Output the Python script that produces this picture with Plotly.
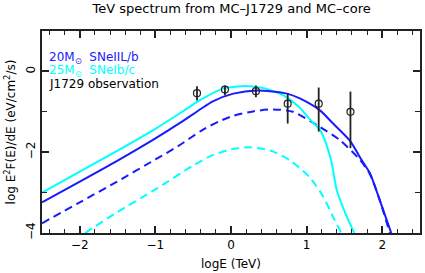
import plotly.graph_objects as go

# 20 Msun SNeIIL/b (solid) and its dashed companion
blue_solid_x = [-2.5, -2.0, -1.5, -1.0, -0.67, -0.4, -0.24, 0.03, 0.34, 0.74, 0.91, 1.18, 1.35, 1.57, 1.73, 1.84, 1.97, 2.12]
blue_solid_y = [-3.24, -2.73, -2.21, -1.66, -1.27, -0.93, -0.74, -0.55, -0.47, -0.55, -0.67, -0.97, -1.29, -1.71, -2.2, -2.53, -3.2, -4.0]
blue_dash_x = [-2.5, -2.0, -1.5, -1.0, -0.7, -0.37, -0.15, 0.03, 0.29, 0.56, 0.82, 1.18, 1.44, 1.71, 1.84, 1.97, 2.1]
blue_dash_y = [-3.76, -3.24, -2.72, -2.18, -1.85, -1.44, -1.23, -1.1, -0.99, -0.94, -1.0, -1.38, -1.7, -2.2, -2.55, -3.2, -4.0]

# 25 Msun SNeIb/c (solid) and dashed companion
cyan_solid_x = [-2.5, -2.0, -1.5, -1.0, -0.67, -0.4, -0.1, 0.2, 0.45, 0.7, 0.9, 1.05, 1.18, 1.26, 1.33, 1.40, 1.51, 1.63]
cyan_solid_y = [-3.0, -2.48, -1.96, -1.42, -1.03, -0.7, -0.42, -0.36, -0.42, -0.6, -0.88, -1.2, -1.46, -1.8, -2.25, -2.95, -3.5, -4.0]
cyan_dash_x = [-1.93, -1.5, -1.0, -0.5, -0.25, 0.0, 0.25, 0.52, 0.78, 1.04, 1.22, 1.35, 1.46]
cyan_dash_y = [-4.0, -3.48, -2.92, -2.33, -2.08, -1.93, -1.88, -1.96, -2.2, -2.62, -3.1, -3.6, -4.0]

# J1729 observation
obs_x = [-0.45, -0.08, 0.33, 0.75, 1.16, 1.58]
obs_y = [-0.54, -0.45, -0.49, -0.80, -0.80, -1.00]
obs_hi = [-0.37, -0.35, -0.35, -0.54, -0.40, -0.50]
obs_lo = [-0.72, -0.59, -0.64, -1.29, -1.49, -1.90]

x_tickvals = [-2, -1, 0, 1, 2]
x_ticktext = ["\u22122", "\u22121", "0", "1", "2"]
y_tickvals = [-4, -2, 0]
y_ticktext = ["\u22124", "\u22122", "0"]

BLUE = "#1a1aff"
CYAN = "#00ffff"
FONT = "DejaVu Sans"
AX = "#222222"

fig = go.Figure()
# cyan dashed curve drawn on the mirrored (top/right) axes, which share the same ranges
fig.add_trace(go.Scatter(x=cyan_dash_x, y=cyan_dash_y, mode="lines", xaxis="x2", yaxis="y2",
                         line=dict(color=CYAN, width=2, dash="8px,5px", shape="spline", smoothing=0.7)))
fig.add_trace(go.Scatter(x=blue_dash_x, y=blue_dash_y, mode="lines", line=dict(color=BLUE, width=2, dash="8px,5px", shape="spline", smoothing=0.7)))
fig.add_trace(go.Scatter(x=cyan_solid_x, y=cyan_solid_y, mode="lines", line=dict(color=CYAN, width=2, shape="spline", smoothing=0.6)))
fig.add_trace(go.Scatter(x=blue_solid_x, y=blue_solid_y, mode="lines", line=dict(color=BLUE, width=2, shape="spline", smoothing=0.7)))
fig.add_trace(go.Scatter(
    x=obs_x, y=obs_y, mode="markers",
    marker=dict(symbol="circle-open", size=7, color="#222222", line=dict(width=1.2, color="#222222")),
    error_y=dict(type="data", symmetric=False,
                 array=[h - v for h, v in zip(obs_hi, obs_y)],
                 arrayminus=[v - l for v, l in zip(obs_y, obs_lo)],
                 color="#222222", thickness=1.8, width=0),
))

legend_items = [
    ("20M<sub>\u2299</sub>  SNeIIL/b", BLUE, 0.32),
    ("25M<sub>\u2299</sub>  SNeIb/c", CYAN, 0.0),
    ("J1729 observation", "black", -0.32),
]
for txt, col, yy in legend_items:
    fig.add_annotation(x=-2.43, y=yy, xref="x", yref="y", text=txt, showarrow=False,
                       xanchor="left", yanchor="middle", font=dict(family=FONT, size=12, color=col))

fig.update_layout(
    template="none",
    width=425, height=273,
    margin=dict(l=42, r=5, t=31, b=40, autoexpand=False),
    paper_bgcolor="white", plot_bgcolor="white",
    showlegend=False,
    title=dict(text="TeV spectrum from MC\u2013J1729 and MC\u2013core", x=0.545, xanchor="center",
               y=1 - 8 / 273, yanchor="middle", font=dict(family=FONT, size=13, color="black")),
    font=dict(family=FONT, size=12, color="black"),
)
common_minor = dict(ticks="inside", tickwidth=1.2, tickcolor=AX)
fig.update_layout(
    xaxis=dict(
        range=[-2.5, 2.5], tickvals=x_tickvals, ticktext=x_ticktext,
        ticks="inside", ticklen=7, tickwidth=1.5, tickcolor=AX,
        minor=dict(dtick=0.2, tick0=0, ticklen=4, **common_minor),
        showline=True, linecolor=AX, linewidth=2, showgrid=False, zeroline=False,
        title=dict(text="logE (TeV)", font=dict(family=FONT, size=12), standoff=8),
        tickfont=dict(family=FONT, size=12), automargin=False,
    ),
    xaxis2=dict(
        range=[-2.5, 2.5], overlaying="x", side="top", anchor="y", showticklabels=False,
        tickvals=x_tickvals, ticks="inside", ticklen=7, tickwidth=1.5, tickcolor=AX,
        minor=dict(dtick=0.2, tick0=0, ticklen=4, **common_minor),
        showline=True, linecolor=AX, linewidth=2, showgrid=False, zeroline=False, automargin=False,
    ),
    yaxis=dict(
        range=[-4, 1], tickvals=y_tickvals, ticktext=y_ticktext, tickangle=-90,
        ticks="inside", ticklen=7, tickwidth=1.5, tickcolor=AX,
        minor=dict(dtick=1, tick0=0, ticklen=5, **common_minor),
        showline=True, linecolor=AX, linewidth=2, showgrid=False, zeroline=False,
        title=dict(text="log E<sup>2</sup>F(E)/dE (eV/cm<sup>2</sup>/s)", font=dict(family=FONT, size=12), standoff=6),
        tickfont=dict(family=FONT, size=12), automargin=False,
    ),
    yaxis2=dict(
        range=[-4, 1], overlaying="y", side="right", anchor="x", showticklabels=False,
        tickvals=y_tickvals, ticks="inside", ticklen=7, tickwidth=1.5, tickcolor=AX,
        minor=dict(dtick=1, tick0=0, ticklen=5, **common_minor),
        showline=True, linecolor=AX, linewidth=2, showgrid=False, zeroline=False, automargin=False,
    ),
)

fig.write_html("out.html", config={"displayModeBar": False},
               post_script="document.body.style.margin='0';document.body.style.overflow='hidden';")
